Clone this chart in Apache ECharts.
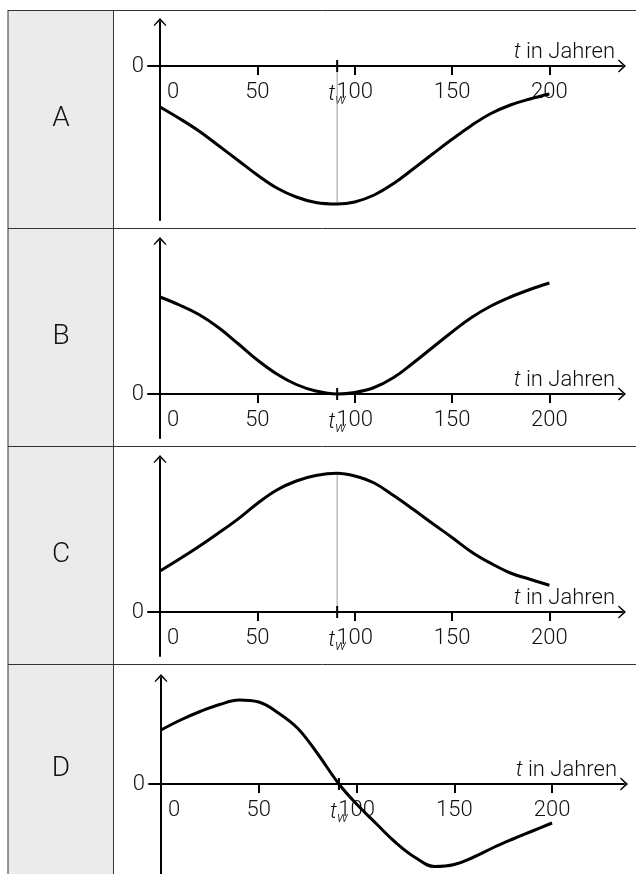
<!DOCTYPE html>
<html>
<head>
<meta charset="utf-8">
<script src="https://cdn.jsdelivr.net/npm/echarts@6.0.0/dist/echarts.min.js"></script>
<style>
  html, body { margin: 0; padding: 0; background: #fff; }
  #chart { width: 636px; height: 874px; }
</style>
</head>
<body>
<div id="chart"></div>
<script>
// t in Jahren, sampled every 10 years (91 = t_w)
const years = [0, 10, 20, 30, 40, 50, 60, 70, 80, 91, 100, 110, 120, 130, 140, 150, 160, 170, 180, 190, 200]
const tW = 91

// curve heights (no units on the y axis)
const curveA = [-41, -52.5, -65, -79.5, -94.2, -109, -122, -131, -136.5, -138, -136, -129, -117.5, -103, -88, -73.3, -59.4, -47.5, -39, -33, -28]
const curveB = [97, 89, 79.5, 66.5, 50.5, 34, 20, 9.5, 3, 0, 1.5, 6.5, 16.5, 31, 46.5, 62, 76.5, 88, 97, 104.5, 111]
const curveC = [41, 53, 65.5, 78.9, 92.9, 108.5, 122, 131, 136.5, 138.7, 136, 129, 116.4, 102.7, 88.5, 74.5, 60.1, 48.6, 39, 32.7, 26.7]
const curveD = [54, 64, 72.5, 79.5, 84, 82, 71, 55.5, 30.5, 0, -20, -39.5, -58.5, -73.5, -82.5, -80.5, -73, -63.5, -55, -47, -39]

const rowNames = ['A', 'B', 'C', 'D']
const xTicks = [50, 100, 150, 200]
const xLabels = [0, 50, tW, 100, 150, 200]
const yLabels = [0]

const font = 'Roboto, "Liberation Sans", sans-serif'
const chevron = 'path://M0,7.2 L6.5,0 L13,7.2 L12.1,8 L6.5,2.4 L0.9,8 Z'

// one panel per table row; y range is in pixels so the zero line lands where it should
const panels = [
  { curve: curveA, guide: true, grid: { left: 148, right: 14, top: 22, height: 198 }, x: [-6.163, 237.3], y: [-154, 44] },
  { curve: curveB, guide: false, grid: { left: 148, right: 14, top: 241, height: 197 }, x: [-6.163, 237.3], y: [-44, 153] },
  { curve: curveC, guide: true, grid: { left: 148, right: 14, top: 459, height: 197 }, x: [-6.163, 237.3], y: [-44, 153] },
  { curve: curveD, guide: false, grid: { left: 149, right: 12, top: 678, height: 196 }, x: [-6.14, 236.8], y: [-90, 106] }
]
const rowTops = [10, 228, 446, 664]
const rowMid = [119, 337, 555, 769]

const axisLine = {
  onZero: false,
  symbol: ['none', chevron],
  symbolSize: [13, 8],
  lineStyle: { color: '#000', width: 2 }
}

function xAxisFor(p, i) {
  return {
    type: 'value',
    gridIndex: i,
    position: 'bottom',
    offset: p.y[0],
    min: p.x[0],
    max: p.x[1],
    axisLine: axisLine,
    splitLine: { show: false },
    axisTick: { customValues: xTicks, length: 9, lineStyle: { color: '#000', width: 2 } },
    axisLabel: {
      customValues: xLabels,
      margin: 15,
      fontFamily: font,
      fontWeight: 300,
      fontSize: 22,
      color: '#111',
      formatter: function (v) {
        if (v === 0) return '{z|0}'
        if (v === tW) return '{t|t}{w|w}'
        return String(v)
      },
      rich: {
        z: { padding: [0, 0, 0, 26] },
        t: { fontStyle: 'italic' },
        w: { fontStyle: 'italic', fontSize: 15, padding: [12, 0, 0, 0] }
      }
    },
    name: '{i|t} in Jahren',
    nameLocation: 'end',
    nameGap: -7,
    nameTextStyle: {
      align: 'right',
      verticalAlign: 'bottom',
      padding: [0, 0, 3, 0],
      fontFamily: font,
      fontWeight: 300,
      fontSize: 22,
      color: '#111',
      rich: { i: { fontStyle: 'italic' } }
    }
  }
}

function yAxisFor(p, i) {
  return {
    type: 'value',
    gridIndex: i,
    position: 'left',
    offset: -12,
    min: p.y[0],
    max: p.y[1],
    axisLine: axisLine,
    splitLine: { show: false },
    axisTick: { show: false },
    axisLabel: {
      customValues: yLabels,
      margin: 16,
      fontFamily: font,
      fontWeight: 300,
      fontSize: 22,
      color: '#111'
    }
  }
}

const series = []
panels.forEach(function (p, i) {
  series.push({
    type: 'line',
    xAxisIndex: i,
    yAxisIndex: i,
    data: years.map(function (t, k) { return [t, p.curve[k]] }),
    smooth: 0.4,
    showSymbol: false,
    silent: true,
    z: 5,
    lineStyle: { color: '#000', width: 3 }
  })
  // small tick across the axis at t_w
  series.push({
    type: 'line',
    xAxisIndex: i,
    yAxisIndex: i,
    data: [[tW, -6], [tW, 6]],
    showSymbol: false,
    silent: true,
    z: 4,
    lineStyle: { color: '#000', width: 2 }
  })
  if (p.guide) {
    series.push({
      type: 'line',
      xAxisIndex: i,
      yAxisIndex: i,
      data: [[tW, 0], [tW, p.curve[years.indexOf(tW)]]],
      showSymbol: false,
      silent: true,
      z: 3,
      lineStyle: { color: '#999', width: 1 }
    })
  }
})

// table: grey first column and border lines
const graphic = [
  { type: 'rect', shape: { x: 8, y: 10, width: 105, height: 870 }, style: { fill: '#ebebeb' }, z: -10 },
  { type: 'line', shape: { x1: 8, y1: 10, x2: 8, y2: 880 }, style: { stroke: '#333', lineWidth: 1 } },
  { type: 'line', shape: { x1: 113.5, y1: 10, x2: 113.5, y2: 880 }, style: { stroke: '#333', lineWidth: 1 } }
]
rowTops.forEach(function (y) {
  graphic.push({ type: 'line', shape: { x1: 8, y1: y + 0.5, x2: 640, y2: y + 0.5 }, style: { stroke: '#333', lineWidth: 1 } })
})
rowNames.forEach(function (label, i) {
  graphic.push({
    type: 'text',
    x: 61,
    y: rowMid[i],
    style: { text: label, fontFamily: font, fontWeight: 300, fontSize: 28, fill: '#111', align: 'center', verticalAlign: 'middle' }
  })
})

const chart = echarts.init(document.getElementById('chart'))
chart.setOption({
  animation: false,
  grid: panels.map(function (p) { return p.grid }),
  xAxis: panels.map(xAxisFor),
  yAxis: panels.map(yAxisFor),
  series: series,
  graphic: graphic
})
</script>
</body>
</html>
